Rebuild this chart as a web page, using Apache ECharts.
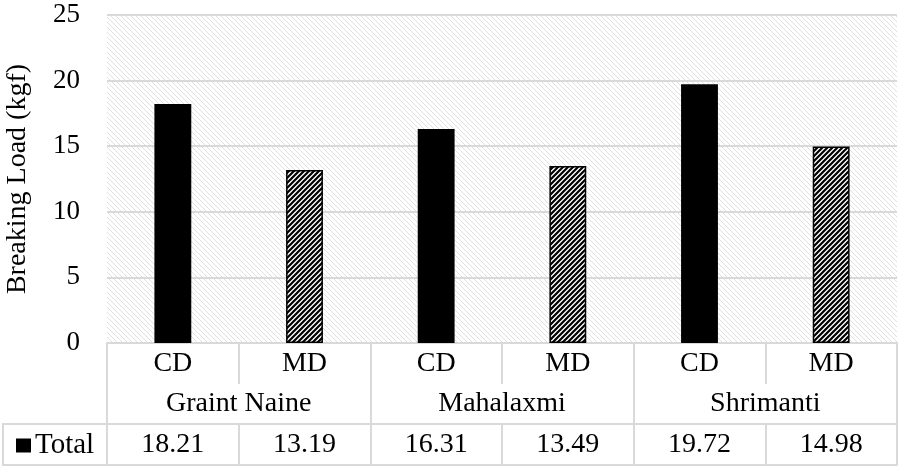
<!DOCTYPE html>
<html>
<head>
<meta charset="utf-8">
<script src="https://cdn.jsdelivr.net/npm/echarts@6/dist/echarts.min.js"></script>
<style>
html,body{margin:0;padding:0;background:#fff;}
#chart{width:898px;height:466px;}
</style>
</head>
<body>
<div id="chart"></div>
<script>
// ---- data ----
const categories = ['CD', 'MD', 'CD', 'MD', 'CD', 'MD'];
const groups = ['Graint Naine', 'Mahalaxmi', 'Shrimanti'];
const seriesName = 'Total';
const values = [18.21, 13.19, 16.31, 13.49, 19.72, 14.98];
const yTicks = [0, 5, 10, 15, 20, 25];

// ---- patterns ----
function makeHatch(size, dir, stroke, width, bg) {
  const c = document.createElement('canvas');
  c.width = size; c.height = size;
  const g = c.getContext('2d');
  g.fillStyle = bg; g.fillRect(0, 0, size, size);
  g.strokeStyle = stroke; g.lineWidth = width;
  g.beginPath();
  if (dir === '/') {
    g.moveTo(-1, size + 1); g.lineTo(size + 1, -1);
    g.moveTo(-1, 1); g.lineTo(1, -1);
    g.moveTo(size - 1, size + 1); g.lineTo(size + 1, size - 1);
  } else {
    g.moveTo(-1, -1); g.lineTo(size + 1, size + 1);
    g.moveTo(size - 1, -1); g.lineTo(size + 1, 1);
    g.moveTo(-1, size - 1); g.lineTo(1, size + 1);
  }
  g.stroke();
  return c;
}
const bgPattern = { image: makeHatch(5, '\\', '#e0e0e0', 1.0, '#ffffff'), repeat: 'repeat' };
const mdPattern = { image: makeHatch(5, '/', '#000000', 2.2, '#ffffff'), repeat: 'repeat' };

const FONT = "'Liberation Serif', 'Times New Roman', serif";
const FS = 28;
const LINE = { color: '#d9d9d9', width: 2 };

const chart = echarts.init(document.getElementById('chart'));
const barData = values.map((v, i) => ({
  value: v,
  itemStyle: categories[i] === 'MD'
    ? { color: mdPattern, borderColor: '#000', borderWidth: 1.5 }
    : { color: '#000' }
}));

chart.setOption({
  animation: false,
  backgroundColor: '#fff',
  grid: {
    left: 107, right: 1, top: 15, bottom: 123,
    outerBoundsMode: 'none', containLabel: false,
    show: true, backgroundColor: bgPattern, borderWidth: 0
  },
  legend: {
    show: true,
    data: [seriesName],
    left: 11, top: 426,
    icon: 'rect', itemWidth: 15, itemHeight: 14, itemGap: 4,
    textStyle: { fontFamily: FONT, fontSize: 29, color: '#000', padding: [0, 0, 0, -1] }
  },
  xAxis: [
    {
      type: 'category', data: categories, position: 'bottom',
      axisLine: { show: true, lineStyle: LINE },
      axisTick: { show: true, length: 41, lineStyle: LINE },
      axisLabel: { fontFamily: FONT, fontSize: FS, color: '#000', margin: 7 },
      splitLine: { show: false }
    },
    {
      type: 'category', data: groups, position: 'bottom', offset: 0,
      axisLine: { show: false },
      axisTick: { show: true, length: 122, lineStyle: LINE },
      axisLabel: { fontFamily: FONT, fontSize: FS, color: '#000', margin: 47 },
      splitLine: { show: false }
    },
    {
      type: 'category', data: values.map(v => v.toFixed(2)), position: 'bottom', offset: 81,
      axisLine: { show: true, lineStyle: LINE },
      axisTick: { show: true, length: 41, lineStyle: LINE },
      axisLabel: { fontFamily: FONT, fontSize: FS, color: '#000', margin: 7 },
      splitLine: { show: false }
    },
    {
      type: 'category', data: categories, position: 'bottom', offset: 122,
      axisLine: { show: true, lineStyle: LINE },
      axisTick: { show: false },
      axisLabel: { show: false },
      splitLine: { show: false }
    }
  ],
  yAxis: {
    type: 'value', min: yTicks[0], max: yTicks[yTicks.length - 1], interval: 5,
    name: 'Breaking Load (kgf)', nameLocation: 'middle', nameRotate: 90, nameGap: 75,
    nameTextStyle: { fontFamily: FONT, fontSize: FS, color: '#000' },
    axisLine: { show: false }, axisTick: { show: false },
    axisLabel: { fontFamily: FONT, fontSize: 27, color: '#000', margin: 27 },
    splitLine: { show: true, lineStyle: LINE }
  },
  series: [{
    name: seriesName, type: 'bar', xAxisIndex: 0, data: barData,
    barWidth: '28%', itemStyle: { color: '#000' }
  }],
  graphic: [
    { type: 'line', shape: { x1: 3, y1: 424, x2: 107, y2: 424 }, style: { stroke: '#d9d9d9', lineWidth: 2 }, silent: true },
    { type: 'line', shape: { x1: 3, y1: 465, x2: 107, y2: 465 }, style: { stroke: '#d9d9d9', lineWidth: 2 }, silent: true },
    { type: 'line', shape: { x1: 3, y1: 423, x2: 3, y2: 466 }, style: { stroke: '#d9d9d9', lineWidth: 2 }, silent: true }
  ]
});
</script>
</body>
</html>
